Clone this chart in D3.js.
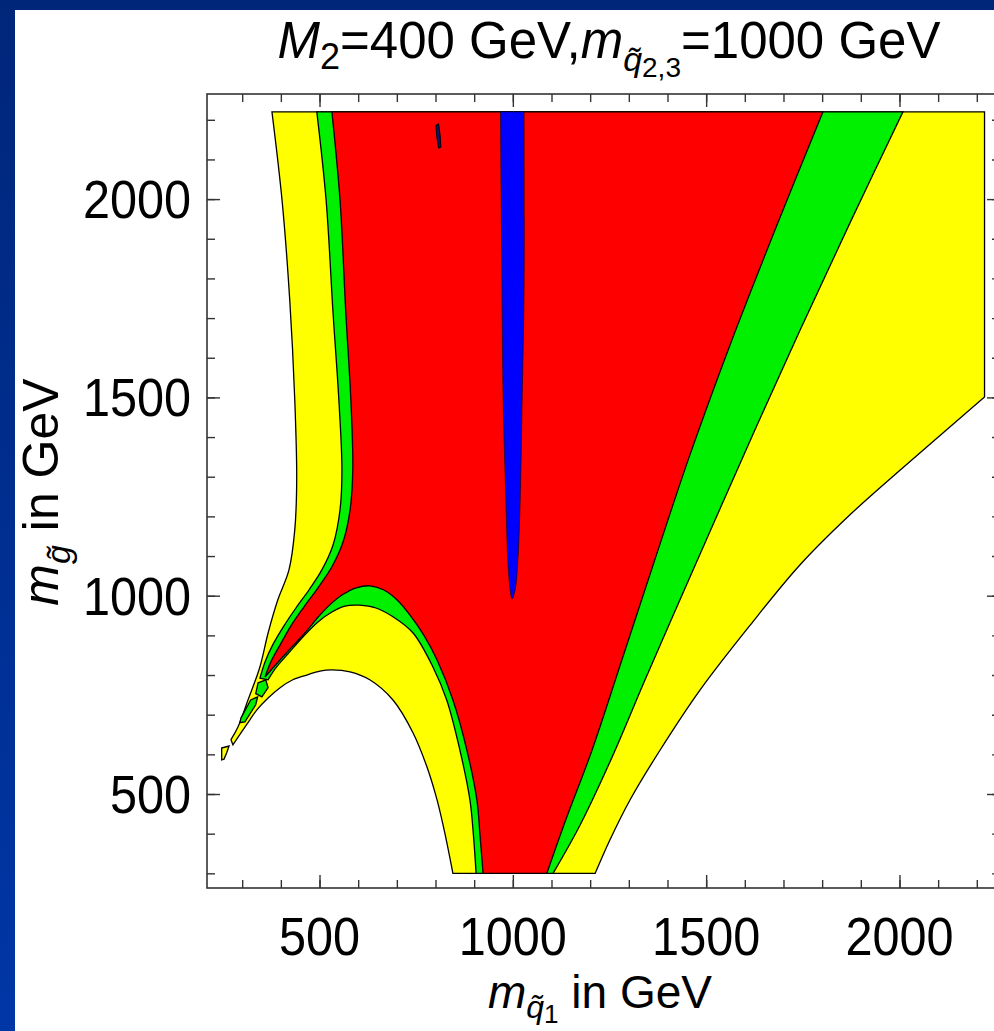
<!DOCTYPE html>
<html><head><meta charset="utf-8">
<script src="https://cdn.jsdelivr.net/npm/d3@7"></script>
<style>
body{margin:0;background:#fff}
svg{display:block}
text{font-family:"Liberation Sans",Arial,Helvetica,sans-serif;fill:#000}
</style>
</head><body>
<svg id="chart" width="994" height="1031"></svg>
<script>
// ---- data (m_q1 [GeV], m_gluino [GeV]) ----
const xMajorTicks = [500, 1000, 1500, 2000];
const xMinorTicks = [300,400,500,600,700,800,900,1000,1100,1200,1300,1400,1500,1600,1700,1800,1900,2000,2100,2200];
const yMajorTicks = [500, 1000, 1500, 2000];
const yMinorTicks = [300,400,500,600,700,800,900,1000,1100,1200,1300,1400,1500,1600,1700,1800,1900,2000,2100,2200];

// yellow region boundaries
const yellowTopRight = [[377,2220],[2220,2220],[2220,1501]];
const yellowLowerRight = [[2220,1501],[2002,1317],[1872,1204],[1743,1078],[1614,926],[1484,762],[1381,611],[1303,485],[1251,384],[1213,300]];
const yellowBottom = [[1213,300],[845,300]];
const yellowArch = [[845,300],[824,402],[804,485],[778,568],[742,654],[690,737],[630,788],[579,808],[532,813],[501,810],[467,800],
  [431,788],[398,768],[367,742],[338,712],[320,687],[299,657],[276,624]];
const yellowTail = [[276,624],[271,637]];
const yellowLeft = [[271,637],[289,669],[315,737],[346,821],[367,906],[392,989],[421,1065],[436,1166],[441,1292],[436,1494],[423,1746],[403,1998],[377,2220]];
const yellowTip = [[247,616],[266,621],[260,604],[253,588],[247,586]];

// green region boundaries
const greenTop = [[493,2220],[2009,2220]];
const greenRight = [[2009,2220],[1872,1940],[1743,1670],[1626,1418],[1523,1191],[1432,989],[1342,788],[1259,598],[1174,422],[1104,300]];
const greenBottom = [[1104,300],[905,300]];
const greenArch = [[905,300],[898,397],[889,485],[863,611],[829,737],[793,821],[742,906],[690,947],[646,969],[604,976],[566,974],
  [532,959],[496,934],[457,896],[418,853],[387,818],[367,788]];
const greenTail = [[367,788],[346,792]];
const greenLeft = [[346,792],[359,833],[379,876],[408,924],[439,969],[473,1015],[506,1065],[535,1128],[553,1216],[558,1317],[550,1494],[535,1713],[517,1998],[493,2220]];
const greenBits = [
  [[341,780],[361,788],[367,768],[351,745],[335,753]],
  [[322,737],[340,745],[335,725],[307,682],[294,680],[297,692]]
];

// red region boundaries
const redTop = [[532,2220],[1802,2220]];
const redRight = [[1802,2220],[1678,1922],[1562,1633],[1458,1355],[1367,1090],[1282,838],[1205,611],[1137,435],[1088,300]];
const redBottom = [[1088,300],[923,300]];
const redArch = [[923,300],[915,397],[907,485],[881,611],[845,737],[804,838],[770,900],[735,950],[700,990],[665,1015],[630,1025],
  [595,1020],[560,1003],[530,980],[500,950],[462,906],[410,851],[359,795]];
const redLeft = [[359,795],[374,833],[398,876],[426,924],[460,972],[496,1020],[532,1073],[561,1136],[579,1216],[586,1317],[581,1494],[568,1713],[553,1998],[532,2220]];

// blue region
const blueTop = [[968,2220],[1029,2220]];
const blueEdge = [[1029,2220],[1029,1771],[1024,1494],[1019,1242],[1013,1090],[1006,1015],[998,992],
  [993,1015],[987,1090],[982,1242],[975,1494],[972,1771],[968,2220]];
const blueSpot = [[801,2186],[808,2190],[812,2160],[814,2131],[808,2128],[803,2160]];

// ---- layout ----
const svg = d3.select("#chart");
const W = 994, H = 1031;
const frame = {l:207, r:1000, t:94, b:888};
const x = d3.scaleLinear().domain([209, 2260]).range([frame.l, frame.r]);
const y = d3.scaleLinear().domain([263, 2265]).range([frame.b, frame.t]);

// background
const defs = svg.append("defs");
const g1 = defs.append("linearGradient").attr("id","bg").attr("x1",0).attr("y1",0).attr("x2",0).attr("y2",1);
g1.append("stop").attr("offset","0%").attr("stop-color","#00267a");
g1.append("stop").attr("offset","100%").attr("stop-color","#0036a6");
svg.append("rect").attr("width",W).attr("height",H).attr("fill","url(#bg)");
svg.append("rect").attr("x",15).attr("y",10).attr("width",W-15).attr("height",H-10).attr("fill","#fff");

const clip = defs.append("clipPath").attr("id","plotclip");
clip.append("rect").attr("x",frame.l).attr("y",frame.t).attr("width",frame.r-frame.l).attr("height",frame.b-frame.t);

const lin = d3.line().x(d=>x(d[0])).y(d=>y(d[1]));
const smooth = d3.line().x(d=>x(d[0])).y(d=>y(d[1])).curve(d3.curveCatmullRom.alpha(0.5));
function region(segs){
  return segs.map((s,i)=>{
    const p = (s.c ? smooth : lin)(s.p);
    return i===0 ? p : p.replace(/^M[^A-Za-z]*/, "");
  }).join("") + "Z";
}
const poly = d => lin(d) + "Z";
const plot = svg.append("g").attr("clip-path","url(#plotclip)");
const sw = 1.3;
const GREEN = "#00f000";
plot.append("path").attr("d",region([
  {p:yellowTopRight},{p:yellowLowerRight,c:1},{p:yellowBottom},{p:yellowArch,c:1},{p:yellowTail},{p:yellowLeft,c:1}
])).attr("fill","#ffff00").attr("stroke","#000").attr("stroke-width",sw);
plot.append("path").attr("d",poly(yellowTip)).attr("fill","#ffff00").attr("stroke","#000").attr("stroke-width",sw);
plot.append("path").attr("d",region([
  {p:greenTop},{p:greenRight,c:1},{p:greenBottom},{p:greenArch,c:1},{p:greenTail},{p:greenLeft,c:1}
])).attr("fill",GREEN).attr("stroke","#000").attr("stroke-width",sw);
greenBits.forEach(b=>plot.append("path").attr("d",poly(b)).attr("fill",GREEN).attr("stroke","#000").attr("stroke-width",sw));
plot.append("path").attr("d",region([
  {p:redTop},{p:redRight,c:1},{p:redBottom},{p:redArch,c:1},{p:redLeft,c:1}
])).attr("fill","#ff0000").attr("stroke","#000").attr("stroke-width",sw);
plot.append("path").attr("d",region([{p:blueTop},{p:blueEdge,c:1}])).attr("fill","#0000ff").attr("stroke","#000").attr("stroke-width",0.6);
plot.append("path").attr("d",poly(blueSpot)).attr("fill","#101070").attr("stroke","#000").attr("stroke-width",1);

// frame + ticks
function ticks(axisGen, tx, ty, vals, len){
  const g = svg.append("g").attr("transform",`translate(${tx},${ty})`)
    .call(axisGen.tickValues(vals).tickSize(-len).tickFormat(""));
  g.select(".domain").remove();
  g.selectAll("line").attr("stroke","#333").attr("stroke-width",1.4);
  return g;
}
ticks(d3.axisBottom(x), 0, frame.b, xMinorTicks, 8);
ticks(d3.axisBottom(x), 0, frame.b, xMajorTicks, 13);
ticks(d3.axisTop(x), 0, frame.t, xMinorTicks, 8);
ticks(d3.axisTop(x), 0, frame.t, xMajorTicks, 13);
ticks(d3.axisLeft(y), frame.l, 0, yMinorTicks, 8);
ticks(d3.axisLeft(y), frame.l, 0, yMajorTicks, 13);
ticks(d3.axisRight(y), frame.r, 0, yMinorTicks, 8);
ticks(d3.axisRight(y), frame.r, 0, yMajorTicks, 13);
svg.append("rect").attr("x",frame.l).attr("y",frame.t).attr("width",frame.r-frame.l).attr("height",frame.b-frame.t)
  .attr("fill","none").attr("stroke","#333").attr("stroke-width",1.6);

// tick labels
const fs = 54;
svg.append("g").selectAll("text").data(xMajorTicks).join("text")
  .attr("transform",d=>`translate(${x(d)},955) scale(0.9,1)`).attr("text-anchor","middle").attr("font-size",fs).text(d=>d);
svg.append("g").selectAll("text").data(yMajorTicks).join("text")
  .attr("transform",d=>`translate(191,${y(d)+19}) scale(0.9,1)`).attr("text-anchor","end").attr("font-size",fs).text(d=>d);

// title
const title = svg.append("text").attr("x",609).attr("y",58).attr("text-anchor","middle").attr("font-size",51);
title.append("tspan").attr("font-style","italic").text("M");
title.append("tspan").attr("font-size",36).attr("dy",11).text("2");
title.append("tspan").attr("dy",-11).text("=400 GeV,");
title.append("tspan").attr("font-style","italic").text("m");
title.append("tspan").attr("font-size",34).attr("font-style","italic").attr("dy",13).text("q\u0303");
title.append("tspan").attr("font-size",28).attr("dy",6).text("2,3");
title.append("tspan").attr("dy",-19).text("=1000 GeV");

// x axis title
const xt = svg.append("text").attr("x",600).attr("y",1008).attr("text-anchor","middle").attr("font-size",46);
xt.append("tspan").attr("font-style","italic").text("m");
xt.append("tspan").attr("font-size",32).attr("font-style","italic").attr("dy",10).text("q\u0303");
xt.append("tspan").attr("font-size",26).attr("dy",5).text("1");
xt.append("tspan").attr("dy",-15).text(" in GeV");

// y axis title
const yt = svg.append("text").attr("transform","translate(58,492) rotate(-90)").attr("text-anchor","middle").attr("font-size",50);
yt.append("tspan").attr("font-style","italic").text("m");
yt.append("tspan").attr("font-size",34).attr("font-style","italic").attr("dy",12).text("g\u0303");
yt.append("tspan").attr("dy",-12).text(" in GeV");
</script>
</body></html>
